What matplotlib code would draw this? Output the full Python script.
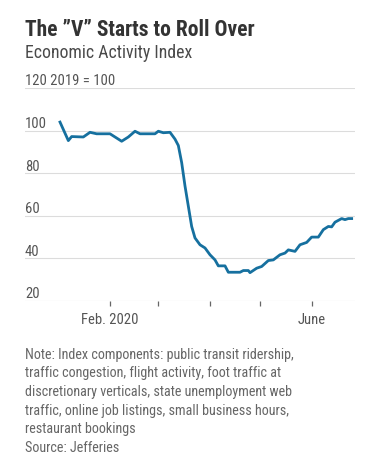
import matplotlib
matplotlib.use("Agg")
import matplotlib.pyplot as plt
import matplotlib.transforms as mtransforms
from matplotlib import font_manager
import numpy as np

# ── data ──────────────────────────────────────────────────────────────────────
dates = [
    "2020-01-02", "2020-01-07", "2020-01-09", "2020-01-16", "2020-01-20",
    "2020-01-24", "2020-02-01", "2020-02-08", "2020-02-12", "2020-02-16",
    "2020-02-19", "2020-02-28", "2020-03-01", "2020-03-04", "2020-03-08",
    "2020-03-11", "2020-03-13", "2020-03-15", "2020-03-17", "2020-03-19",
    "2020-03-21", "2020-03-23", "2020-03-26", "2020-03-29", "2020-04-01",
    "2020-04-04", "2020-04-06", "2020-04-10", "2020-04-12", "2020-04-19",
    "2020-04-21", "2020-04-24", "2020-04-25", "2020-04-29", "2020-05-02",
    "2020-05-06", "2020-05-09", "2020-05-13", "2020-05-16", "2020-05-18",
    "2020-05-22", "2020-05-25", "2020-05-29", "2020-06-01", "2020-06-05",
    "2020-06-08", "2020-06-11", "2020-06-13", "2020-06-15", "2020-06-19",
    "2020-06-21", "2020-06-23", "2020-06-25",
]
index_vals = [
    104.0, 95.3, 97.2, 97.0, 99.2,
    98.5, 98.5, 95.0, 97.0, 99.7,
    98.5, 98.5, 99.7, 99.0, 99.2,
    96.0, 93.0, 85.0, 74.0, 64.5,
    55.0, 49.6, 46.4, 44.9, 41.7,
    39.3, 36.5, 36.5, 33.5, 33.5,
    34.3, 34.3, 33.3, 35.4, 36.2,
    39.0, 39.3, 41.7, 42.5, 44.0,
    43.3, 46.4, 47.5, 50.0, 50.0,
    53.5, 55.0, 54.8, 57.0, 58.7,
    58.2, 58.7, 58.7,
]
y_ticks = [20, 40, 60, 80, 100, 120]
y_labels = ["20", "40", "60", "80", "100", "120 2019 = 100"]
x_ticks = ["2020-02-01", "2020-03-01", "2020-04-01", "2020-05-01", "2020-06-01"]
x_labels = ["Feb. 2020", "", "", "", "June"]

title = "The \u201dV\u201d Starts to Roll Over"
subtitle = "Economic Activity Index"
note_lines = [
    "Note: Index components: public transit ridership,",
    "traffic congestion, flight activity, foot traffic at",
    "discretionary verticals, state unemployment web",
    "traffic, online job listings, small business hours,",
    "restaurant bookings",
    "Source: Jefferies",
]


def pick_font(names):
    for n in names:
        try:
            font_manager.findfont(n, fallback_to_default=False)
            return n
        except Exception:
            continue
    return "DejaVu Sans"


FONT = pick_font(["Roboto Condensed", "Liberation Sans Narrow", "Lato", "Roboto"])
plt.rcParams["font.family"] = [FONT, "DejaVu Sans"]

W, H = 370, 473
fig = plt.figure(figsize=(W / 100, H / 100), dpi=100)
fig.patch.set_facecolor("white")


def fy(px):
    return 1 - px / H


ax = fig.add_axes([25 / W, fy(301), 330 / W, (301 - 88) / H])

x = np.array(dates, dtype="datetime64[D]")
ax.plot(x, index_vals, color="#16709f", linewidth=2.0, solid_joinstyle="round",
        zorder=3)

ax.set_ylim(20, 120)
ax.set_xlim(np.datetime64("2019-12-12"), np.datetime64("2020-06-27"))

for sp in ax.spines.values():
    sp.set_visible(False)

# gridlines
for v in y_ticks:
    ax.axhline(v, color="#dcdcdc" if v != 20 else "#cfcfcf", linewidth=0.8,
               zorder=1)

ax.set_yticks([])
lab_tr = mtransforms.offset_copy(ax.get_yaxis_transform(), fig=fig,
                                 x=0, y=2.5, units="dots")
for v, lab in zip(y_ticks, y_labels):
    ax.text(0, v, lab, transform=lab_tr, ha="left", va="baseline",
            fontsize=10.5, color="#555555")

ax.set_xticks(np.array(x_ticks, dtype="datetime64[D]"))
ax.set_xticklabels(x_labels)
ax.tick_params(axis="x", length=3.5, width=0.9, color="#666666",
               labelsize=10.5, labelcolor="#555555", pad=5, direction="out")

# header text
fig.text(25 / W, fy(36), title, fontsize=15.5, fontweight="bold",
         color="#333333", ha="left", va="baseline")
fig.text(25 / W, fy(57.5), subtitle, fontsize=12.8, color="#4a4a4a",
         ha="left", va="baseline")

# notes
for i, line in enumerate(note_lines):
    fig.text(25 / W, fy(358.5 + i * 18.7), line, fontsize=10.2,
             color="#666666", ha="left", va="baseline")

fig.savefig("out.png", dpi=100, facecolor="white")
